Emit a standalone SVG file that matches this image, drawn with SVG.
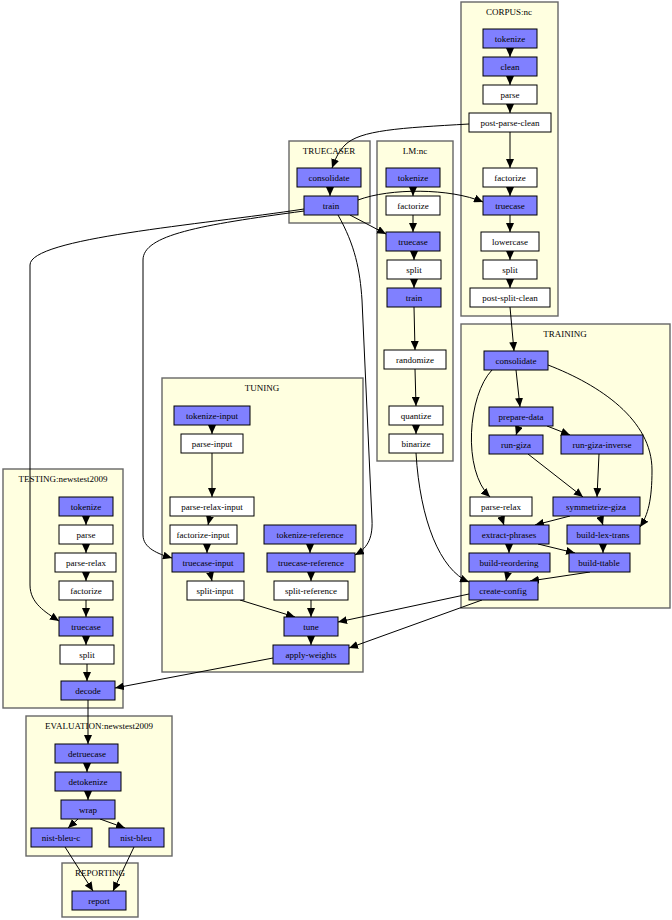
<svg xmlns="http://www.w3.org/2000/svg" width="672" height="920" viewBox="0 0 672 920">
<defs>
<marker id="a" markerWidth="9" markerHeight="8" refX="9" refY="4" orient="auto" markerUnits="userSpaceOnUse"><path d="M0,0L9,4L0,8z" fill="#000"/></marker>
<style>
.c{fill:#ffffe0;stroke:#666;stroke-width:1.4}
.n rect{stroke:#000;stroke-width:1}
.b rect{fill:#8080ff}
.w rect{fill:#fff}
text{font-family:"Liberation Serif",serif;font-size:9px;text-anchor:middle;fill:#000}
#edges path{fill:none;stroke:#000;stroke-width:1;marker-end:url(#a)}
</style>
</defs>
<rect width="672" height="920" fill="#fff"/>
<g id="clusters">
<rect class="c" x="461" y="2" width="97" height="314"/><text x="509" y="15">CORPUS:nc</text>
<rect class="c" x="289" y="141" width="81" height="82"/><text x="329" y="154">TRUECASER</text>
<rect class="c" x="377" y="141" width="76" height="320"/><text x="415" y="154">LM:nc</text>
<rect class="c" x="461" y="324" width="209" height="284"/><text x="565" y="337">TRAINING</text>
<rect class="c" x="162" y="378" width="201" height="294"/><text x="262" y="391">TUNING</text>
<rect class="c" x="3" y="469" width="120" height="239"/><text x="63" y="482">TESTING:newstest2009</text>
<rect class="c" x="26" y="716" width="146" height="140"/><text x="99" y="729">EVALUATION:newstest2009</text>
<rect class="c" x="62" y="863" width="76" height="54"/><text x="100" y="876">REPORTING</text>
</g>
<g id="edges">
<path d="M510,48V57"/><path d="M510,76V85"/><path d="M510,104V113"/><path d="M510,132V168"/><path d="M510,187V196"/><path d="M510,215V232"/><path d="M510,251V260"/><path d="M510,279V288"/>
<path d="M510,307L514,351"/>
<path d="M469,124C400,128 360,130 345,145C338,152 335,160 332,168"/>
<path d="M330,187V196"/>
<path d="M358,200C390,188 450,188 483,202"/>
<path d="M350,215L386,234"/>
<path d="M304,209C200,225 30,238 30,265L30,585C30,603 45,612 59,621"/>
<path d="M304,211C200,225 143,235 143,260L143,535C143,548 158,554 172,558"/>
<path d="M338,215C355,245 360,270 362,300L372,520C373,540 366,549 355,555"/>
<path d="M413,187V196"/><path d="M413,215V232"/><path d="M414,251V260"/><path d="M414,279V288"/><path d="M414,307L415,350"/><path d="M415,369L416,406"/><path d="M416,425V434"/>
<path d="M416,453C420,520 440,570 469,582"/>
<path d="M516,370L520,407"/>
<path d="M492,370C468,395 462,470 490,497"/>
<path d="M548,365C600,385 652,420 652,470C652,500 648,515 640,527"/>
<path d="M519,426L516,435"/><path d="M547,426L570,435"/>
<path d="M528,454L583,497"/><path d="M599,454L597,497"/>
<path d="M501,516L504,525"/><path d="M570,516L535,525"/><path d="M600,516L603,525"/>
<path d="M509,544V553"/><path d="M538,544L575,553"/><path d="M603,544V553"/>
<path d="M508,572L506,581"/><path d="M590,572L530,581"/>
<path d="M469,594L338,622"/><path d="M482,600L349,648"/>
<path d="M212,425V434"/><path d="M212,453V497"/><path d="M210,516L208,525"/><path d="M207,544V553"/><path d="M210,572L212,581"/>
<path d="M240,600L295,617"/>
<path d="M310,544V553"/><path d="M311,572V581"/><path d="M311,600V617"/><path d="M311,636V645"/>
<path d="M273,658L115,688"/>
<path d="M86,516V525"/><path d="M86,544V553"/><path d="M86,572V581"/><path d="M86,600V617"/><path d="M86,636V645"/><path d="M87,664V681"/>
<path d="M88,700V744"/>
<path d="M87,763V772"/><path d="M88,791V800"/><path d="M78,819L68,828"/><path d="M100,819L125,828"/>
<path d="M65,847L93,891"/><path d="M134,847L113,891"/>
</g>
<g id="n1" class="n b"><rect x="483" y="29" width="54" height="19"/><text x="510" y="42">tokenize</text></g>
<g id="n2" class="n b"><rect x="483" y="57" width="54" height="19"/><text x="510" y="70">clean</text></g>
<g id="n3" class="n w"><rect x="483" y="85" width="54" height="19"/><text x="510" y="98">parse</text></g>
<g id="n4" class="n w"><rect x="469" y="113" width="82" height="19"/><text x="510" y="126">post-parse-clean</text></g>
<g id="n5" class="n w"><rect x="483" y="168" width="54" height="19"/><text x="510" y="181">factorize</text></g>
<g id="n6" class="n b"><rect x="483" y="196" width="54" height="19"/><text x="510" y="209">truecase</text></g>
<g id="n7" class="n w"><rect x="481" y="232" width="58" height="19"/><text x="510" y="245">lowercase</text></g>
<g id="n8" class="n w"><rect x="483" y="260" width="54" height="19"/><text x="510" y="273">split</text></g>
<g id="n9" class="n w"><rect x="470" y="288" width="80" height="19"/><text x="510" y="301">post-split-clean</text></g>
<g id="n10" class="n b"><rect x="297" y="168" width="64" height="19"/><text x="329" y="181">consolidate</text></g>
<g id="n11" class="n b"><rect x="304" y="196" width="54" height="19"/><text x="331" y="209">train</text></g>
<g id="n12" class="n b"><rect x="386" y="168" width="54" height="19"/><text x="413" y="181">tokenize</text></g>
<g id="n13" class="n w"><rect x="386" y="196" width="54" height="19"/><text x="413" y="209">factorize</text></g>
<g id="n14" class="n b"><rect x="386" y="232" width="54" height="19"/><text x="413" y="245">truecase</text></g>
<g id="n15" class="n w"><rect x="387" y="260" width="54" height="19"/><text x="414" y="273">split</text></g>
<g id="n16" class="n b"><rect x="387" y="288" width="54" height="19"/><text x="414" y="301">train</text></g>
<g id="n17" class="n w"><rect x="384" y="350" width="62" height="19"/><text x="415" y="363">randomize</text></g>
<g id="n18" class="n w"><rect x="389" y="406" width="54" height="19"/><text x="416" y="419">quantize</text></g>
<g id="n19" class="n w"><rect x="389" y="434" width="54" height="19"/><text x="416" y="447">binarize</text></g>
<g id="n20" class="n b"><rect x="484" y="351" width="64" height="19"/><text x="516" y="364">consolidate</text></g>
<g id="n21" class="n b"><rect x="489" y="407" width="64" height="19"/><text x="521" y="420">prepare-data</text></g>
<g id="n22" class="n b"><rect x="489" y="435" width="54" height="19"/><text x="516" y="448">run-giza</text></g>
<g id="n23" class="n b"><rect x="561" y="435" width="82" height="19"/><text x="602" y="448">run-giza-inverse</text></g>
<g id="n24" class="n w"><rect x="470" y="497" width="62" height="19"/><text x="501" y="510">parse-relax</text></g>
<g id="n25" class="n b"><rect x="553" y="497" width="87" height="19"/><text x="596" y="510">symmetrize-giza</text></g>
<g id="n26" class="n b"><rect x="470" y="525" width="79" height="19"/><text x="509" y="538">extract-phrases</text></g>
<g id="n27" class="n b"><rect x="567" y="525" width="73" height="19"/><text x="603" y="538">build-lex-trans</text></g>
<g id="n28" class="n b"><rect x="469" y="553" width="81" height="19"/><text x="509" y="566">build-reordering</text></g>
<g id="n29" class="n b"><rect x="569" y="553" width="61" height="19"/><text x="599" y="566">build-ttable</text></g>
<g id="n30" class="n b"><rect x="469" y="581" width="69" height="19"/><text x="503" y="594">create-config</text></g>
<g id="n31" class="n b"><rect x="174" y="406" width="76" height="19"/><text x="212" y="419">tokenize-input</text></g>
<g id="n32" class="n w"><rect x="181" y="434" width="62" height="19"/><text x="212" y="447">parse-input</text></g>
<g id="n33" class="n w"><rect x="170" y="497" width="84" height="19"/><text x="212" y="510">parse-relax-input</text></g>
<g id="n34" class="n w"><rect x="170" y="525" width="67" height="19"/><text x="203" y="538">factorize-input</text></g>
<g id="n35" class="n b"><rect x="172" y="553" width="72" height="19"/><text x="208" y="566">truecase-input</text></g>
<g id="n36" class="n w"><rect x="187" y="581" width="57" height="19"/><text x="215" y="594">split-input</text></g>
<g id="n37" class="n b"><rect x="264" y="525" width="92" height="19"/><text x="310" y="538">tokenize-reference</text></g>
<g id="n38" class="n b"><rect x="267" y="553" width="88" height="19"/><text x="311" y="566">truecase-reference</text></g>
<g id="n39" class="n w"><rect x="274" y="581" width="74" height="19"/><text x="311" y="594">split-reference</text></g>
<g id="n40" class="n b"><rect x="284" y="617" width="54" height="19"/><text x="311" y="630">tune</text></g>
<g id="n41" class="n b"><rect x="273" y="645" width="76" height="19"/><text x="311" y="658">apply-weights</text></g>
<g id="n42" class="n b"><rect x="59" y="497" width="54" height="19"/><text x="86" y="510">tokenize</text></g>
<g id="n43" class="n w"><rect x="59" y="525" width="54" height="19"/><text x="86" y="538">parse</text></g>
<g id="n44" class="n w"><rect x="55" y="553" width="61" height="19"/><text x="86" y="566">parse-relax</text></g>
<g id="n45" class="n w"><rect x="59" y="581" width="54" height="19"/><text x="86" y="594">factorize</text></g>
<g id="n46" class="n b"><rect x="59" y="617" width="54" height="19"/><text x="86" y="630">truecase</text></g>
<g id="n47" class="n w"><rect x="60" y="645" width="54" height="19"/><text x="87" y="658">split</text></g>
<g id="n48" class="n b"><rect x="61" y="681" width="54" height="19"/><text x="88" y="694">decode</text></g>
<g id="n49" class="n b"><rect x="55" y="744" width="63" height="19"/><text x="87" y="757">detruecase</text></g>
<g id="n50" class="n b"><rect x="55" y="772" width="66" height="19"/><text x="88" y="785">detokenize</text></g>
<g id="n51" class="n b"><rect x="61" y="800" width="54" height="19"/><text x="88" y="813">wrap</text></g>
<g id="n52" class="n b"><rect x="31" y="828" width="61" height="19"/><text x="61" y="841">nist-bleu-c</text></g>
<g id="n53" class="n b"><rect x="109" y="828" width="55" height="19"/><text x="136" y="841">nist-bleu</text></g>
<g id="n54" class="n b"><rect x="72" y="891" width="54" height="19"/><text x="99" y="904">report</text></g>
</svg>
